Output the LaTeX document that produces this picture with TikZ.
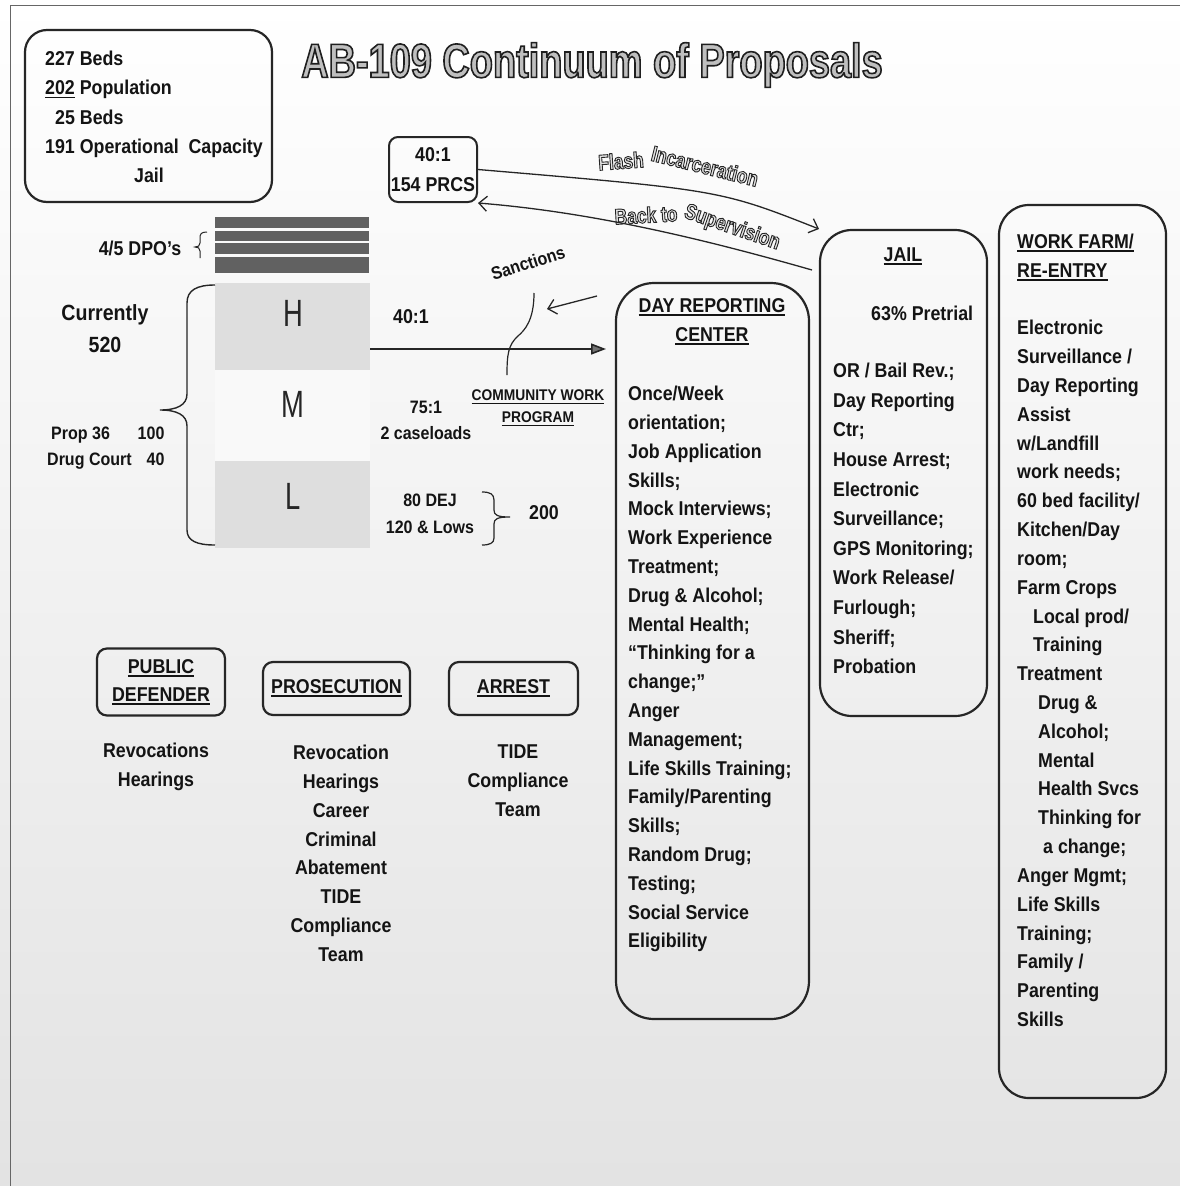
\documentclass[tikz,border=0pt]{standalone}
\usepackage{fontspec}
\setmainfont{Liberation Sans}[FakeStretch=0.89]
\newfontfamily\titlefont{Liberation Sans}[FakeStretch=0.79]
\newfontfamily\hmlfont{Liberation Sans}[FakeStretch=0.72]
\usetikzlibrary{arrows.meta}
\newsavebox\ulsave
\newcommand\ulbox[2][1.8pt]{\sbox\ulsave{#2}\rlap{\raisebox{-3.5pt}{\rule{\wd\ulsave}{#1}}}\usebox\ulsave}
% outlined text: stroke width, stroke gray level, text (fill colour comes from the node)
\newcommand\strokedtext[3]{\special{pdf:literal direct #2 G #1 w 2 Tr}#3\special{pdf:literal direct 0 Tr}}
\tikzset{
  txt/.style={inner sep=0pt, text=black!92, font=\fontsize{20}{29}\selectfont\bfseries},
  boxline/.style={draw=black!85, line width=2.2pt, inner sep=0pt},
  arr/.style={draw=black!85, line width=1.3pt},
  barb/.style={-{Straight Barb[length=8pt,width=15pt,line width=1.3pt]}},
  hml/.style={inner sep=0pt, text=black!85, font=\hmlfont\fontsize{38}{40}\selectfont},
  outl/.style={inner sep=0pt, text=gray!22, font=\titlefont\fontsize{22}{24}\selectfont\bfseries},
}
\begin{document}
\begin{tikzpicture}[x=1pt,y=-1pt]
\useasboundingbox (0,0) rectangle (1180,1186);
\shade[top color=white, middle color=gray!7, bottom color=gray!22] (0,0) rectangle (1180,1186);
\draw[black!60, line width=1pt] (1180,5) -- (10,5) -- (10,1186);

% title
\node[inner sep=0pt, text=gray!50, font=\titlefont\fontsize{48}{50}\selectfont\bfseries] (title) at (592,65) {\strokedtext{1.6}{0.12}{AB-109 Continuum of Proposals}};

% top-left box
\node[boxline, rounded corners=22pt, minimum width=247pt, minimum height=172pt] (bedbox) at (148.5,116) {};
\node[txt, align=left, anchor=north west, font=\fontsize{20}{29.3}\selectfont\bfseries] (bedtxt) at (45,50.8)
  {227 Beds\\\ulbox[1.5pt]{202} Population\\\hspace*{10pt}25 Beds\\191 Operational\ \ Capacity};
\node[txt] (jailword) at (149,175) {Jail};

% PRCS box
\node[boxline, line width=2pt, rounded corners=9pt, minimum width=88pt, minimum height=65pt, txt, align=center, font=\fontsize{20}{30}\selectfont\bfseries] (prcs) at (433,169.5) {40:1\\154 PRCS};

% DPO bars
\foreach \a/\b in {217/228,231/241,243/254,257/273} \fill[black!62] (215,\a) rectangle (369,\b);
\node[txt] (dpo) at (140,248) {4/5 DPO’s};
\draw[arr, line width=1pt] (207,232) .. controls (201,232) and (200,234) .. (200,238) -- (200,243) .. controls (200,246) and (198,247) .. (195,247) .. controls (198,247) and (200,248) .. (200,251) -- (200,258);

% H M L
\node[fill=gray!26, minimum width=155pt, minimum height=87pt, inner sep=0pt] (hbox) at (292.5,326.5) {};
\node[fill=gray!5, minimum width=155pt, minimum height=91pt, inner sep=0pt] (mbox) at (292.5,415.5) {};
\node[fill=gray!26, minimum width=155pt, minimum height=87pt, inner sep=0pt] (lbox) at (292.5,504.5) {};
\node[hml] (hL) at (293,313) {H};
\node[hml] (mL) at (293,404) {M};
\node[hml] (lL) at (293,496) {L};

% big brace
\draw[arr, line width=1.4pt] (215,285) .. controls (197,285) and (187,290) .. (187,303) -- (187,394) .. controls (187,405) and (177,410) .. (160,410) .. controls (177,410) and (187,415) .. (187,426) -- (187,530) .. controls (187,541) and (197,545) .. (215,545);

\node[txt, align=center, font=\fontsize{22}{32}\selectfont\bfseries] (cur) at (105,329) {Currently\\520};
\node[txt, anchor=north west, font=\fontsize{18}{26}\selectfont\bfseries] (prop) at (47,421.3)
  {\begin{tabular}{@{}l@{\hspace{6pt}}r@{}}\hspace*{4pt}Prop 36 & 100\\Drug Court & 40\end{tabular}};

% middle labels
\node[txt] (r40) at (411,317) {40:1};
\node[txt, align=center, font=\fontsize{18}{26}\selectfont\bfseries] (r75) at (426,420) {75:1\\2 caseloads};
\node[txt, align=center, font=\fontsize{18}{27}\selectfont\bfseries] (dej) at (430,513.5) {80 DEJ\\120 \& Lows};
\draw[arr, line width=1.2pt] (482,492) .. controls (490,492) and (494,494) .. (494,500) -- (494,510) .. controls (494,515) and (497,517) .. (510,517) .. controls (497,517) and (494,519) .. (494,524) -- (494,538) .. controls (494,543) and (490,545) .. (482,545);
\node[txt] (n200) at (544,513) {200};
\node[txt, align=center, font=\fontsize{15.5}{22.5}\selectfont\bfseries] (cwp) at (538,408) {\ulbox[1.4pt]{COMMUNITY WORK}\\\ulbox[1.4pt]{PROGRAM}};
\node[txt, font=\fontsize{18}{20}\selectfont\bfseries, rotate=18] (sanc) at (528,263) {Sanctions};

% curved labels
\node[outl, rotate=4] (flashA) at (621,161) {\strokedtext{0.9}{0.15}{Flash}};
\node[outl, rotate=-14] (flashB) at (705,166) {\strokedtext{0.9}{0.15}{Incarceration}};
\node[outl, rotate=3] (backA) at (646,215) {\strokedtext{0.9}{0.15}{Back to}};
\node[outl, rotate=-19] (backB) at (732,228) {\strokedtext{0.9}{0.15}{Supervision}};

% big boxes
\node[boxline, rounded corners=38pt, minimum width=193pt, minimum height=736pt] (drc) at (712.5,651) {};
\node[boxline, rounded corners=32pt, minimum width=167pt, minimum height=486pt] (jail) at (903.5,473) {};
\node[boxline, rounded corners=30pt, minimum width=167pt, minimum height=893pt] (wf) at (1082.5,651.5) {};

% connectors
\coordinate (flashEnd) at (819,229);
\coordinate (flashCtl) at (720,190);
\draw[arr, barb] (prcs.east) .. controls (flashCtl) .. (flashEnd);
\coordinate (backStart) at (812,270);
\draw[arr, barb] (backStart) .. controls (700,238) and (590,212) .. (prcs.south east);
\coordinate (sancA) at (597,296);
\coordinate (sancB) at (547,309);
\draw[arr, barb] (sancA) -- (sancB);
\coordinate (sqA) at (534,293);
\coordinate (sqB) at (507,375);
\draw[arr, line width=1.2pt] (sqA) .. controls (534,320) and (525,330) .. (518,336) .. controls (508,345) and (507,355) .. (sqB);
\coordinate (mainEnd) at (606,349);
\draw[arr, line width=1.6pt, -{Triangle[length=15pt,width=11pt,fill=black!55]}] (hbox.east |- mainEnd) -- (mainEnd);

% DRC text
\node[txt, align=center] (drctitle) at (712,322) {\ulbox{DAY REPORTING}\\\ulbox{CENTER}};
\node[txt, align=left, anchor=north west, font=\fontsize{20}{28.8}\selectfont\bfseries] (drcbody) at (628,386)
  {Once/Week\\orientation;\\Job Application\\Skills;\\Mock Interviews;\\Work Experience\\Treatment;\\Drug \& Alcohol;\\Mental Health;\\“Thinking for a\\change;”\\Anger\\Management;\\Life Skills Training;\\Family/Parenting\\Skills;\\Random Drug;\\Testing;\\Social Service\\Eligibility};

% JAIL text
\node[txt] (jailtitle) at (903,256) {\ulbox{JAIL}};
\node[txt, anchor=west] (pretrial) at (871,313) {63\% Pretrial};
\node[txt, align=left, anchor=north west, font=\fontsize{20}{29.6}\selectfont\bfseries] (jailbody) at (833,363)
  {OR / Bail Rev.;\\Day Reporting\\Ctr;\\House Arrest;\\Electronic\\Surveillance;\\GPS Monitoring;\\Work Release/\\Furlough;\\Sheriff;\\Probation};

% WORK FARM text
\node[txt, align=left, anchor=north west] (wftitle) at (1017,234) {\ulbox{WORK FARM/}\\\ulbox{RE-ENTRY}};
\node[txt, align=left, anchor=north west, font=\fontsize{20}{28.83}\selectfont\bfseries] (wfbody) at (1017,320)
  {Electronic\\Surveillance /\\Day Reporting\\Assist\\w/Landfill\\work needs;\\60 bed facility/\\Kitchen/Day\\room;\\Farm Crops\\\hspace*{16pt}Local prod/\\\hspace*{16pt}Training\\Treatment\\\hspace*{21pt}Drug \&\\\hspace*{21pt}Alcohol;\\\hspace*{21pt}Mental\\\hspace*{21pt}Health Svcs\\\hspace*{21pt}Thinking for\\\hspace*{26pt}a change;\\Anger Mgmt;\\Life Skills\\Training;\\Family /\\Parenting\\Skills};

% bottom boxes
\node[boxline, rounded corners=10pt, minimum width=128pt, minimum height=67pt, txt, align=center, font=\fontsize{20}{28}\selectfont\bfseries] (pd) at (161,682) {\ulbox{PUBLIC}\\\ulbox{DEFENDER}};
\node[boxline, rounded corners=10pt, minimum width=147pt, minimum height=53pt, txt] (pros) at (336.5,688.5) {\ulbox{PROSECUTION}};
\node[boxline, rounded corners=10pt, minimum width=129pt, minimum height=53pt, txt] (arrest) at (513.5,688.5) {\ulbox{ARREST}};
\node[txt, align=center, anchor=north] (pdtxt) at (156,743) {Revocations\\Hearings};
\node[txt, align=center, anchor=north, font=\fontsize{20}{28.8}\selectfont\bfseries] (prostxt) at (341,745) {Revocation\\Hearings\\Career\\Criminal\\Abatement\\TIDE\\Compliance\\Team};
\node[txt, align=center, anchor=north, font=\fontsize{20}{28.8}\selectfont\bfseries] (arresttxt) at (518,745) {TIDE\\Compliance\\Team};
\end{tikzpicture}
\end{document}
